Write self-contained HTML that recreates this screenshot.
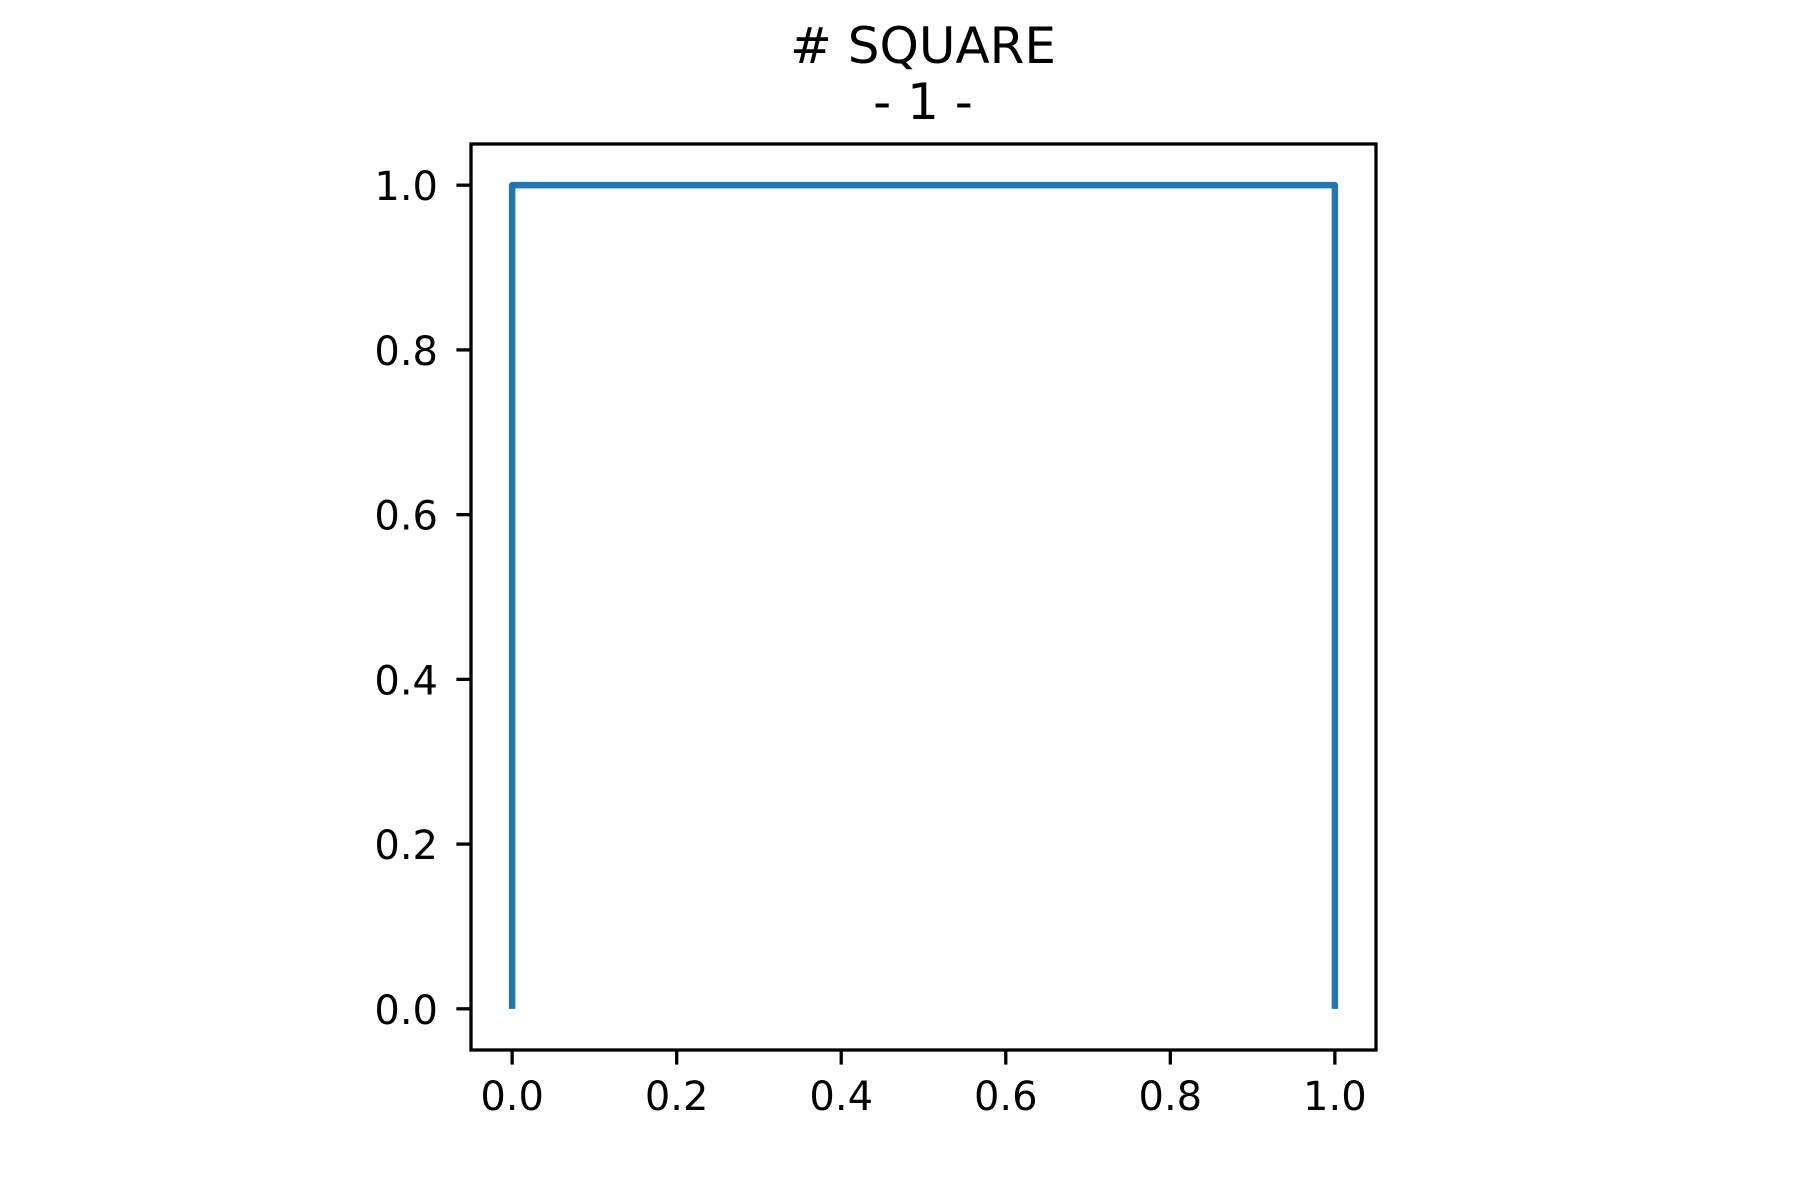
<!DOCTYPE html>
<html><head><meta charset="utf-8"><style>
html,body{margin:0;padding:0;background:#fff;}
svg{display:block;font-family:"DejaVu Sans","Liberation Sans",sans-serif;}
</style></head><body>
<svg id="chart" width="1800" height="1200" viewBox="0 0 1800 1200">
<rect width="1800" height="1200" fill="#fff"/>
<text x="923" y="63" font-size="50" text-anchor="middle">
<tspan x="923" y="63">#&#160;SQUARE</tspan><tspan x="923" y="119">-&#160;1&#160;-</tspan></text>
<g id="ticks"></g>
<path id="series" fill="none" stroke="#1f77b4" stroke-width="6.5" stroke-linejoin="round"/>
<rect x="471" y="144" width="905" height="906" fill="none" stroke="#000" stroke-width="3.3"/>
</svg>
<script>
const xValues = [0, 0, 1, 1];
const yValues = [0, 1, 1, 0];
const xTicks = [0, 0.2, 0.4, 0.6, 0.8, 1.0];
const yTicks = [0, 0.2, 0.4, 0.6, 0.8, 1.0];
const xTickLabels = ["0.0","0.2","0.4","0.6","0.8","1.0"];
const yTickLabels = ["0.0","0.2","0.4","0.6","0.8","1.0"];

const L=471,R=1376,T=144,B=1050,dMin=-0.05,dMax=1.05;
function sx(v){return L+(v-dMin)/(dMax-dMin)*(R-L);}
function sy(v){return B-(v-dMin)/(dMax-dMin)*(B-T);}
const NS="http://www.w3.org/2000/svg";
const g=document.getElementById('ticks');
xTicks.forEach((v,i)=>{
  const l=document.createElementNS(NS,'line');
  l.setAttribute('x1',sx(v));l.setAttribute('x2',sx(v));
  l.setAttribute('y1',B);l.setAttribute('y2',B+14.6);
  l.setAttribute('stroke','#000');l.setAttribute('stroke-width','3.3');
  
  
  g.appendChild(l);
  const t=document.createElementNS(NS,'text');
  t.setAttribute('x',sx(v));t.setAttribute('y',B+60);
  t.setAttribute('font-size','40');t.setAttribute('text-anchor','middle');
  t.textContent=xTickLabels[i];
  
  
  g.appendChild(t);
});
yTicks.forEach((v,i)=>{
  const l=document.createElementNS(NS,'line');
  l.setAttribute('x1',L-14.6);l.setAttribute('x2',L);
  l.setAttribute('y1',sy(v));l.setAttribute('y2',sy(v));
  l.setAttribute('stroke','#000');l.setAttribute('stroke-width','3.3');
  
  
  g.appendChild(l);
  const t=document.createElementNS(NS,'text');
  t.setAttribute('x',L-33);t.setAttribute('y',sy(v)+15);
  t.setAttribute('font-size','40');t.setAttribute('text-anchor','end');
  t.textContent=yTickLabels[i];
  
  
  g.appendChild(t);
});
let d='';
xValues.forEach((v,i)=>{d+=(i?'L':'M')+sx(v)+' '+sy(yValues[i])+' ';});
document.getElementById('series').setAttribute('d',d);
</script>
</body></html>
